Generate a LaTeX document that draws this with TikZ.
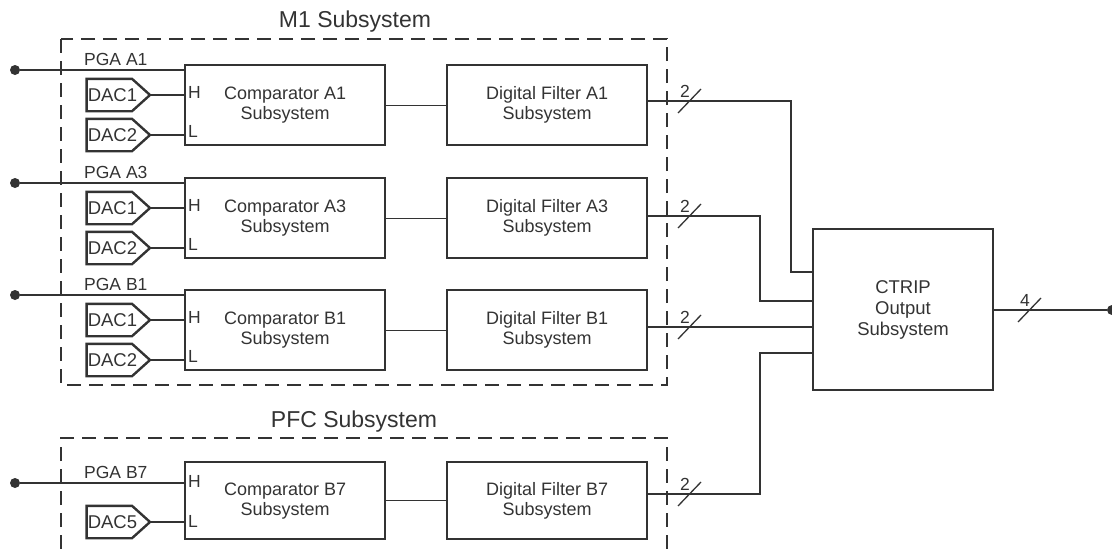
\documentclass[tikz,border=0pt]{standalone}
\usepackage{fontspec}
\setmainfont{Liberation Sans}
\usetikzlibrary{calc}
\definecolor{ink}{HTML}{333333}
\newcommand\dacnode[4]{%
  \node[dac, anchor=east] (#1) at (#2,#3) {#4};
  \draw[dacline] (#1.north west) -- ([xshift=-18pt]#1.north east) -- (#1.east)
    -- ([xshift=-18pt]#1.south east) -- (#1.south west) -- cycle;}
\newcommand\busmark[4]{% x, y, label, name
  \draw[wire] ({#1-12},{#2+12}) -- ({#1+11},{#2-12});
  \node[lbl] (#4) at ({#1-5},{#2-10}) {#3};}
\newcommand\cmprow[4]{% id, top, name, output y
  \node[blk] (c#1) at (184,#2) {Comparator #3\\Subsystem};
  \node[blk] (f#1) at (446,#2) {Digital Filter #3\\Subsystem};
  \draw[wire] (c#1.east) -- (f#1.west);
  \node[dot] (p#1) at (15,{#2+6}) {};
  \draw[wire] (p#1) -- (p#1 -| c#1.west);
  \node[lbl, anchor=base west] (l#1) at (84,{#2+1}) {PGA #3};
  \dacnode{dh#1}{150}{#2+31}{DAC1}
  \dacnode{dl#1}{150}{#2+71}{DAC2}
  \draw[wire] (dh#1.east) -- (dh#1.east -| c#1.west);
  \draw[wire] (dl#1.east) -- (dl#1.east -| c#1.west);
  \node[lbl, anchor=west] (h#1) at (188,{#2+28}) {H};
  \node[lbl, anchor=west] (lo#1) at (188,{#2+67}) {L};
  \coordinate (o#1) at (f#1.east |- 0,#4);
  \busmark{690}{#4}{2}{b#1}}
\begin{document}
\begin{tikzpicture}[x=1pt,y=-1pt,
  blk/.style={draw=ink, line width=2.4pt, minimum width=200pt, minimum height=80pt,
    anchor=north west, align=center, font=\fontsize{18}{20}\selectfont, text=ink, inner sep=0pt},
  big/.style={draw=ink, line width=2.4pt, minimum width=180pt, minimum height=161pt,
    align=center, font=\fontsize{18.5}{21}\selectfont, text=ink, inner sep=0pt},
  wire/.style={draw=ink, line width=1.3pt},
  dashbox/.style={draw=ink, line width=1.3pt, dash pattern=on 14pt off 8pt},
  lbl/.style={font=\fontsize{17.5}{20}\selectfont, text=ink, inner sep=0pt},
  ttl/.style={font=\fontsize{23}{26}\selectfont, text=ink, inner sep=0pt},
  dot/.style={circle, fill=ink, minimum size=10pt, inner sep=0pt},
  dac/.style={text width=61pt, align=left, inner xsep=1pt, inner ysep=0pt,
    minimum height=32pt, font=\fontsize{18.5}{20}\selectfont, text=ink},
  dacline/.style={draw=ink, line width=2.4pt, line join=miter},
]
\useasboundingbox (0,0) rectangle (1112,549);
% dashed subsystem frames
\draw[dashbox] (61,39) rectangle (667,385);
\draw[dashbox] (61,549) -- (61,438) -- (667,438) -- (667,549);
\node[ttl, anchor=base] (tM1) at (355,27) {M1 Subsystem};
\node[ttl, anchor=base] (tPFC) at (354,427) {PFC Subsystem};
% rows
\cmprow{A1}{64}{A1}{101}
\cmprow{A3}{177}{A3}{216}
\cmprow{B1}{289}{B1}{327}
% PFC row
\node[blk, minimum height=77pt] (cB7) at (184,461) {Comparator B7\\Subsystem};
\node[blk, minimum height=77pt] (fB7) at (446,461) {Digital Filter B7\\Subsystem};
\draw[wire] (cB7.east) -- (fB7.west);
\node[dot] (pB7) at (15,483) {};
\draw[wire] (pB7) -- (pB7 -| cB7.west);
\node[lbl, anchor=base west] (lB7) at (84,478) {PGA B7};
\dacnode{dlB7}{150}{522}{DAC5}
\draw[wire] (dlB7.east) -- (dlB7.east -| cB7.west);
\node[lbl, anchor=west] (hB7) at (188,481) {H};
\node[lbl, anchor=west] (loB7) at (188,521) {L};
\coordinate (oB7) at (fB7.east |- 0,494);
\busmark{690}{494}{2}{bB7}
% CTRIP
\node[big] (ct) at (903,309.5) {CTRIP\\Output\\Subsystem};
\coordinate (jA1) at (791,272);
\coordinate (jA3) at (760,301);
\coordinate (jB7) at (760,353);
\draw[wire] (oA1) -| (jA1) -- (jA1 -| ct.west);
\draw[wire] (oA3) -| (jA3) -- (jA3 -| ct.west);
\draw[wire] (oB1) -- (oB1 -| ct.west);
\draw[wire] (oB7) -| (jB7) -- (jB7 -| ct.west);
% output
\node[dot] (out) at (1112,310) {};
\draw[wire] (ct.east |- out) -- (out);
\busmark{1030}{310}{4}{b4}
\end{tikzpicture}
\end{document}
